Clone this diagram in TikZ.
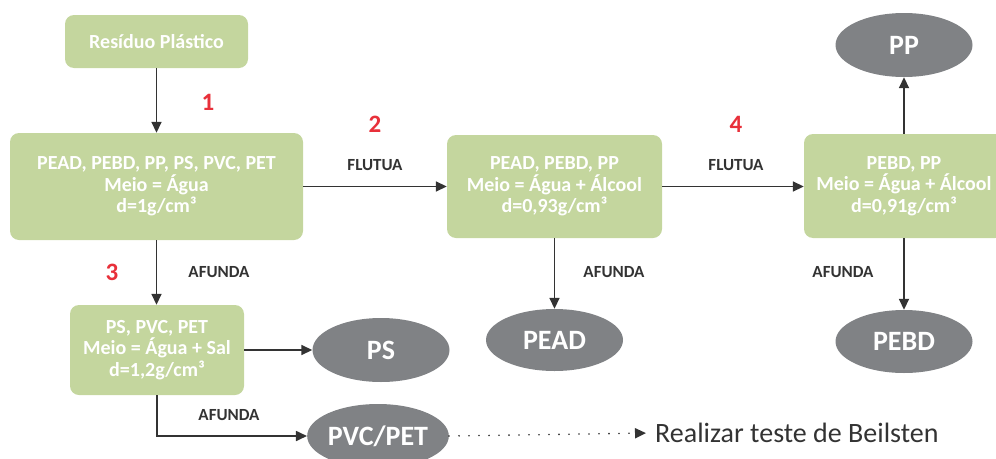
\documentclass[tikz,border=0pt]{standalone}
\usepackage{fontspec}
\setmainfont{Carlito}
\usetikzlibrary{arrows.meta,shapes.geometric}
\definecolor{boxgreen}{HTML}{C4D69E}
\definecolor{ellgray}{HTML}{808285}
\definecolor{lin}{HTML}{333333}
\definecolor{numred}{HTML}{E8303A}
\begin{document}
\begin{tikzpicture}[x=1pt,y=-1pt,
  gbox/.style={fill=boxgreen, rounded corners=9pt, text=white, font=\bfseries\fontsize{20}{21.5}\selectfont, align=center, inner sep=0pt},
  gell/.style={ellipse, fill=ellgray, text=white, font=\bfseries\fontsize{28}{30}\selectfont, inner sep=0pt, minimum width=137pt, minimum height=64pt},
  conn/.style={draw=lin, line width=1.7pt, -{Triangle[length=11pt,width=10pt]}},
  lbl/.style={text=lin, font=\bfseries\fontsize{17}{18}\selectfont},
  num/.style={text=numred, font=\bfseries\fontsize{25}{25}\selectfont}]
\useasboundingbox (0,0) rectangle (996,458);
\clip (0,0) rectangle (996,458);

\node[gbox, minimum width=183pt, minimum height=53pt] (res) at (156.5,41.5) {Resíduo Plástico};
\node[gbox, minimum width=293pt, minimum height=107pt] (b1) at (156.5,186.5) {PEAD, PEBD, PP, PS, PVC, PET\\Meio = Água\\d=1g/cm³};
\node[gbox, minimum width=215pt, minimum height=103pt] (b2) at (554.5,186.5) {PEAD, PEBD, PP\\Meio = Água + Álcool\\d=0,93g/cm³};
\node[gbox, minimum width=200pt, minimum height=104pt] (b3) at (904,186) {PEBD, PP\\Meio = Água + Álcool\\d=0,91g/cm³};
\node[gbox, minimum width=174pt, minimum height=90pt] (b4) at (157,350) {PS, PVC, PET\\Meio = Água + Sal\\d=1,2g/cm³};

\node[gell] (pp) at (904,45) {PP};
\node[gell, minimum height=63pt] (pebd) at (904,341.5) {PEBD};
\node[gell, minimum height=62pt] (pead) at (554.5,340) {PEAD};
\node[gell] (ps) at (381,350) {PS};
\node[gell] (pvc) at (378,436) {PVC/PET};

\node[anchor=west, text=lin, font=\fontsize{28}{30}\selectfont, inner sep=3pt] (beil) at (652,433) {Realizar teste de Beilsten};

\draw[conn] (res.south) -- (b1.north);
\draw[conn] (b1.east) -- (b2.west);
\draw[conn] (b2.east) -- (b2.east -| b3.west);
\draw[conn] (b3.north) -- (pp.south);
\draw[conn] (b3.south) -- (pebd.north);
\draw[conn] (b2.south) -- (pead.north);
\draw[conn] (b1.south) -- (b1.south |- b4.north);
\draw[conn] (b4.east) -- (ps.west);
\draw[conn] (b4.south) |- (pvc.west);
\draw[draw=lin, line width=1.8pt, line cap=round, dash pattern=on 0pt off 10pt, shorten >=6pt, -{Triangle[length=11pt,width=10pt]}] (pvc.east) -- (beil.west);

\node[lbl] (fl1) at (375,165) {FLUTUA};
\node[lbl] (fl2) at (736,165) {FLUTUA};
\node[lbl] (af1) at (219,272) {AFUNDA};
\node[lbl] (af2) at (614,272) {AFUNDA};
\node[lbl] (af3) at (843,272) {AFUNDA};
\node[lbl] (af4) at (229,415) {AFUNDA};

\node[num] (n1) at (208,102) {1};
\node[num] (n2) at (375,124) {2};
\node[num] (n4) at (736,124) {4};
\node[num] (n3) at (112,272) {3};
\end{tikzpicture}
\end{document}
